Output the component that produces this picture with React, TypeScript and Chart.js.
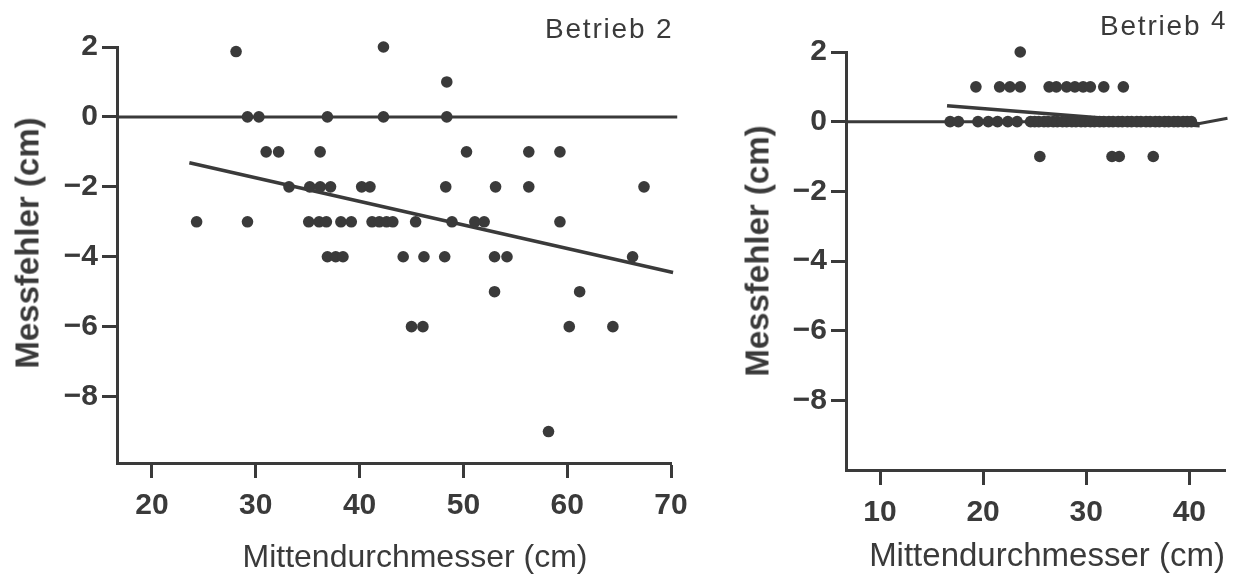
import React, { useEffect, useRef } from "react";
import { Chart, registerables } from "chart.js";

Chart.register(...registerables);

const INK = "#3a3a3a";
const FONT = "'Liberation Sans', Arial, Helvetica, sans-serif";

// ---------- Betrieb 2 ----------
const b2Diameter = [
  28.1, 42.3,
  48.4,
  29.2, 30.3, 36.9, 42.3, 48.4,
  31.0, 32.2, 36.2, 50.3, 56.3, 59.3,
  33.2, 35.2, 36.2, 37.2, 40.2, 41.0, 48.3, 53.1, 56.3, 67.4,
  24.3, 29.2, 35.1, 36.1, 36.8, 38.2, 39.2, 41.2, 41.9, 42.6, 43.2, 45.4, 48.9, 51.1, 52.0, 59.3,
  36.9, 37.7, 38.4, 44.2, 46.2, 48.2, 53.0, 54.2, 66.3,
  53.0, 61.2,
  45.0, 46.1, 60.2, 64.4,
  58.2,
];
const b2Error = [
  1.87, 2,
  1,
  0, 0, 0, 0, 0,
  -1, -1, -1, -1, -1, -1,
  -2, -2, -2, -2, -2, -2, -2, -2, -2, -2,
  -3, -3, -3, -3, -3, -3, -3, -3, -3, -3, -3, -3, -3, -3, -3, -3,
  -4, -4, -4, -4, -4, -4, -4, -4, -4,
  -5, -5,
  -6, -6, -6, -6,
  -9,
];
const b2FitX = [23.6, 70.2];
const b2FitY = [-1.31, -4.45];
const b2ZeroX = [16.63, 70.6];
const b2ZeroY = [0, 0];
const b2XTicks = [20, 30, 40, 50, 60, 70];
const b2YTicks = [2, 0, -2, -4, -6, -8];
const b2XRange = [16.63, 70];
const b2YRange = [-9.9, 2];

// ---------- Betrieb 4 ----------
const b4Diameter = [
  23.6,
  19.3, 21.6, 22.6, 23.6, 26.4, 27.1, 28.1, 28.9, 29.7, 30.4, 31.7, 33.6,
  16.8, 17.6, 19.5, 20.5, 21.4, 22.4, 23.3,
  24.6, 25.0, 25.4, 25.9, 26.3, 26.8, 27.2, 27.7, 28.1, 28.6, 29.0, 29.5,
  29.9, 30.4, 30.8, 31.3, 31.7, 32.2, 32.6, 33.1, 33.5, 34.0, 34.4, 34.9,
  35.3, 35.8, 36.2, 36.7, 37.1, 37.6, 38.0, 38.5, 38.9, 39.4, 39.8, 40.2,
  25.5, 32.5, 33.2, 36.5,
];
const b4Error = [
  2,
  1, 1, 1, 1, 1, 1, 1, 1, 1, 1, 1, 1,
  0, 0, 0, 0, 0, 0, 0,
  0, 0, 0, 0, 0, 0, 0, 0, 0, 0, 0, 0,
  0, 0, 0, 0, 0, 0, 0, 0, 0, 0, 0, 0,
  0, 0, 0, 0, 0, 0, 0, 0, 0, 0, 0, 0,
  -1, -1, -1, -1,
];
const b4FitX = [16.5, 41];
const b4FitY = [0.46, -0.12];
const b4ZeroX = [6.7, 38, 41, 43.7];
const b4ZeroY = [0, 0, -0.05, 0.1];
const b4XTicks = [10, 20, 30, 40];
const b4YTicks = [2, 0, -2, -4, -6, -8];
const b4XRange = [6.7, 43.46];
const b4YRange = [-10, 2];

const zip = (xs: number[], ys: number[]) => xs.map((x, i) => ({ x, y: ys[i] }));
const fmt = (v: number) => (v < 0 ? "\u2212" + Math.abs(v) : String(v));

type Spec = {
  left: number;
  width: number;
  yAxisWidth: number;
  xAxisHeight: number;
  padTop: number;
  padRight: number;
  xs: number[];
  ys: number[];
  fitX: number[];
  fitY: number[];
  zeroX: number[];
  zeroY: number[];
  xTicks: number[];
  yTicks: number[];
  xRange: number[];
  yRange: number[];
};

function buildConfig(s: Spec): any {
  const tickFont = { family: FONT, size: 30, weight: "bold" as const };
  return {
    type: "scatter",
    data: {
      datasets: [
        {
          data: zip(s.xs, s.ys),
          pointRadius: 5.8,
          pointBackgroundColor: INK,
          pointBorderWidth: 0,
          showLine: false,
          clip: false,
        },
        {
          type: "line",
          data: zip(s.fitX, s.fitY),
          borderColor: INK,
          borderWidth: 3.5,
          pointRadius: 0,
          showLine: true,
          fill: false,
          clip: false,
        },
        {
          type: "line",
          data: zip(s.zeroX, s.zeroY),
          borderColor: INK,
          borderWidth: 3,
          pointRadius: 0,
          showLine: true,
          fill: false,
          clip: false,
        },
      ],
    },
    options: {
      responsive: false,
      animation: false,
      devicePixelRatio: 1,
      layout: { padding: { top: s.padTop, right: s.padRight, left: 0, bottom: 0 } },
      plugins: { legend: { display: false }, tooltip: { enabled: false }, title: { display: false } },
      events: [],
      scales: {
        x: {
          type: "linear",
          min: s.xRange[0],
          max: s.xRange[1],
          afterBuildTicks: (sc: any) => {
            sc.ticks = s.xTicks.map((v) => ({ value: v }));
          },
          afterFit: (sc: any) => {
            sc.height = s.xAxisHeight;
          },
          grid: { drawOnChartArea: false, drawTicks: true, tickLength: 15, tickWidth: 3, tickColor: INK },
          border: { display: true, color: INK, width: 3 },
          ticks: {
            color: INK,
            font: tickFont,
            padding: 10,
            maxRotation: 0,
            autoSkip: false,
            callback: (v: number) => fmt(v),
          },
        },
        y: {
          type: "linear",
          min: s.yRange[0],
          max: s.yRange[1],
          afterBuildTicks: (sc: any) => {
            sc.ticks = s.yTicks.map((v) => ({ value: v }));
          },
          afterFit: (sc: any) => {
            sc.width = s.yAxisWidth;
          },
          grid: { drawOnChartArea: false, drawTicks: true, tickLength: 15, tickWidth: 3, tickColor: INK },
          border: { display: true, color: INK, width: 3 },
          ticks: {
            color: INK,
            font: tickFont,
            padding: 4,
            autoSkip: false,
            callback: (v: number) => fmt(v),
          },
        },
      },
    },
  };
}

function Panel({ spec }: { spec: Spec }) {
  const ref = useRef<HTMLCanvasElement>(null);
  useEffect(() => {
    const chart = new Chart(ref.current as HTMLCanvasElement, buildConfig(spec));
    return () => chart.destroy();
  }, []);
  return (
    <canvas
      ref={ref}
      width={spec.width}
      height={576}
      style={{ position: "absolute", left: spec.left, top: 0, width: spec.width, height: 576 }}
    />
  );
}

const leftSpec: Spec = {
  left: 0,
  width: 700,
  yAxisWidth: 117,
  xAxisHeight: 113,
  padTop: 47,
  padRight: 29,
  xs: b2Diameter,
  ys: b2Error,
  fitX: b2FitX,
  fitY: b2FitY,
  zeroX: b2ZeroX,
  zeroY: b2ZeroY,
  xTicks: b2XTicks,
  yTicks: b2YTicks,
  xRange: b2XRange,
  yRange: b2YRange,
};

const rightSpec: Spec = {
  left: 716,
  width: 520,
  yAxisWidth: 130,
  xAxisHeight: 106,
  padTop: 52,
  padRight: 11,
  xs: b4Diameter,
  ys: b4Error,
  fitX: b4FitX,
  fitY: b4FitY,
  zeroX: b4ZeroX,
  zeroY: b4ZeroY,
  xTicks: b4XTicks,
  yTicks: b4YTicks,
  xRange: b4XRange,
  yRange: b4YRange,
};

const textBase: React.CSSProperties = {
  position: "absolute",
  fontFamily: FONT,
  color: INK,
  lineHeight: 1,
  whiteSpace: "nowrap",
};

export default function App() {
  return (
    <div
      style={{
        position: "fixed",
        left: 0,
        top: 0,
        width: 1236,
        height: 576,
        background: "#ffffff",
        overflow: "hidden",
      }}
    >
      <Panel spec={leftSpec} />
      <Panel spec={rightSpec} />

      <div style={{ ...textBase, left: 545, top: 15, fontSize: 28, letterSpacing: 1.8 }}>Betrieb 2</div>
      <div style={{ ...textBase, left: 1100, top: 12, fontSize: 28, letterSpacing: 1.8 }}>
        Betrieb <span style={{ position: "relative", top: -6, fontSize: 26 }}>4</span>
      </div>

      <div style={{ ...textBase, left: 415, top: 540, fontSize: 32, transform: "translateX(-50%)" }}>
        Mittendurchmesser (cm)
      </div>
      <div style={{ ...textBase, left: 1047, top: 538, fontSize: 33, transform: "translateX(-50%)" }}>
        Mittendurchmesser (cm)
      </div>

      <div
        style={{
          ...textBase,
          left: 27,
          top: 243,
          fontSize: 33,
          fontWeight: "bold",
          transform: "translate(-50%, -50%) rotate(-90deg)",
        }}
      >
        Messfehler (cm)
      </div>
      <div
        style={{
          ...textBase,
          left: 757,
          top: 251,
          fontSize: 33,
          fontWeight: "bold",
          transform: "translate(-50%, -50%) rotate(-90deg)",
        }}
      >
        Messfehler (cm)
      </div>
    </div>
  );
}
